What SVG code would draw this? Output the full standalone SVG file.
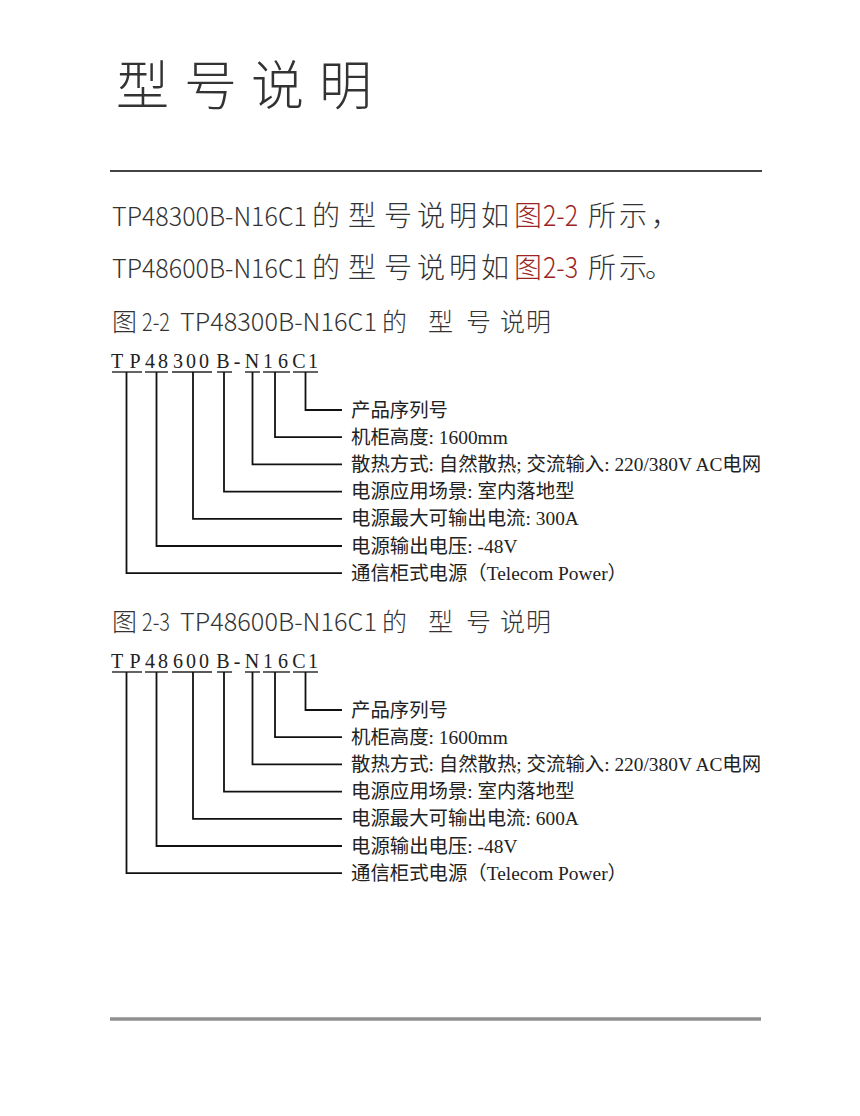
<svg xmlns="http://www.w3.org/2000/svg" width="860" height="1116" viewBox="0 0 860 1116">
<style>
.hw{font-family:"Noto Sans CJK SC","Noto Sans",sans-serif;font-weight:300;fill:#333}
.title{font-size:53px}
.para{font-size:28px}
.lat{font-size:26px}
.cap{font-size:25px}
.red{fill:#9b2423}
.code{font-family:"Liberation Serif",serif;font-size:20px;fill:#222;text-anchor:middle}
.lbl{font-family:"Liberation Serif","Noto Sans CJK SC",serif;font-size:19.4px;fill:#222}
.ln{stroke:#111;stroke-width:1.8;fill:none}
.ul{stroke:#222;stroke-width:1.4}
</style>
<rect width="860" height="1116" fill="#fff"/>
<g id="title">
<text class="hw title" y="105"><tspan x="116">型</tspan><tspan x="184">号</tspan><tspan x="251">说</tspan><tspan x="319">明</tspan></text>
<line x1="110" y1="171" x2="762" y2="171" stroke="#444" stroke-width="2"/>
</g>
<g id="paragraph">
<text class="hw para" y="226"><tspan x="112" class="lat" textLength="195" lengthAdjust="spacingAndGlyphs">TP48300B-N16C1</tspan><tspan x="312">的</tspan><tspan x="348">型</tspan><tspan x="384">号</tspan><tspan x="417">说</tspan><tspan x="449">明</tspan><tspan x="481">如</tspan><tspan x="514" class="red">图</tspan><tspan x="543" class="red" textLength="35" lengthAdjust="spacingAndGlyphs">2-2</tspan><tspan x="588">所</tspan><tspan x="619">示</tspan><tspan x="651">，</tspan></text>
<text class="hw para" y="278"><tspan x="112" class="lat" textLength="195" lengthAdjust="spacingAndGlyphs">TP48600B-N16C1</tspan><tspan x="312">的</tspan><tspan x="348">型</tspan><tspan x="384">号</tspan><tspan x="417">说</tspan><tspan x="449">明</tspan><tspan x="481">如</tspan><tspan x="514" class="red">图</tspan><tspan x="543" class="red" textLength="35" lengthAdjust="spacingAndGlyphs">2-3</tspan><tspan x="588">所</tspan><tspan x="619">示</tspan><tspan x="645">。</tspan></text>
</g>
<g id="fig22-caption">
<text class="hw cap" y="331"><tspan x="112">图</tspan><tspan x="142" textLength="28" lengthAdjust="spacingAndGlyphs">2-2</tspan><tspan x="180" textLength="197" lengthAdjust="spacingAndGlyphs">TP48300B-N16C1</tspan><tspan x="382">的</tspan><tspan x="428">型</tspan><tspan x="466">号</tspan><tspan x="500">说</tspan><tspan x="526">明</tspan></text>
</g>
<g id="fig22-code">
<text class="code" y="368"><tspan x="117">T</tspan><tspan x="135">P</tspan><tspan x="150">4</tspan><tspan x="163">8</tspan><tspan x="178">3</tspan><tspan x="191">0</tspan><tspan x="204">0</tspan><tspan x="223">B</tspan><tspan x="237">-</tspan><tspan x="252">N</tspan><tspan x="268">1</tspan><tspan x="283">6</tspan><tspan x="299">C</tspan><tspan x="313">1</tspan></text>
<g class="ul"><line x1="112" y1="372" x2="142" y2="372"/><line x1="145" y1="372" x2="168" y2="372"/><line x1="172" y1="372" x2="212" y2="372"/><line x1="217" y1="372" x2="232" y2="372"/><line x1="245" y1="372" x2="260" y2="372"/><line x1="263" y1="372" x2="290" y2="372"/><line x1="293" y1="372" x2="318" y2="372"/></g>
</g>
<g id="fig22-connectors">
<path class="ln" d="M305.5 372V410H342"/>
<path class="ln" d="M275 372V437.2H342"/>
<path class="ln" d="M252.5 372V464.4H342"/>
<path class="ln" d="M224 372V491.6H342"/>
<path class="ln" d="M193 372V518.8H342"/>
<path class="ln" d="M156.5 372V546H342"/>
<path class="ln" d="M126.5 372V573.2H342"/>
</g>
<g id="fig22-labels">
<text class="lbl" x="351" y="416.5">产品序列号</text>
<text class="lbl" x="351" y="443.7">机柜高度: 1600mm</text>
<text class="lbl" x="351" y="470.9">散热方式: 自然散热; 交流输入: 220/380V AC电网</text>
<text class="lbl" x="351" y="498.1">电源应用场景: 室内落地型</text>
<text class="lbl" x="351" y="525.3">电源最大可输出电流: 300A</text>
<text class="lbl" x="351" y="552.5">电源输出电压: -48V</text>
<text class="lbl" x="351" y="579.7">通信柜式电源（Telecom Power）</text>
</g>
<g id="fig23-caption">
<text class="hw cap" y="631"><tspan x="112">图</tspan><tspan x="142" textLength="28" lengthAdjust="spacingAndGlyphs">2-3</tspan><tspan x="180" textLength="197" lengthAdjust="spacingAndGlyphs">TP48600B-N16C1</tspan><tspan x="382">的</tspan><tspan x="428">型</tspan><tspan x="466">号</tspan><tspan x="500">说</tspan><tspan x="526">明</tspan></text>
</g>
<g id="fig23-code">
<text class="code" y="668"><tspan x="117">T</tspan><tspan x="135">P</tspan><tspan x="150">4</tspan><tspan x="163">8</tspan><tspan x="178">6</tspan><tspan x="191">0</tspan><tspan x="204">0</tspan><tspan x="223">B</tspan><tspan x="237">-</tspan><tspan x="252">N</tspan><tspan x="268">1</tspan><tspan x="283">6</tspan><tspan x="299">C</tspan><tspan x="313">1</tspan></text>
<g class="ul"><line x1="112" y1="672" x2="142" y2="672"/><line x1="145" y1="672" x2="168" y2="672"/><line x1="172" y1="672" x2="212" y2="672"/><line x1="217" y1="672" x2="232" y2="672"/><line x1="245" y1="672" x2="260" y2="672"/><line x1="263" y1="672" x2="290" y2="672"/><line x1="293" y1="672" x2="318" y2="672"/></g>
</g>
<g id="fig23-connectors">
<path class="ln" d="M305.5 672V710H342"/>
<path class="ln" d="M275 672V737.2H342"/>
<path class="ln" d="M252.5 672V764.4H342"/>
<path class="ln" d="M224 672V791.6H342"/>
<path class="ln" d="M193 672V818.8H342"/>
<path class="ln" d="M156.5 672V846H342"/>
<path class="ln" d="M126.5 672V873.2H342"/>
</g>
<g id="fig23-labels">
<text class="lbl" x="351" y="716.5">产品序列号</text>
<text class="lbl" x="351" y="743.7">机柜高度: 1600mm</text>
<text class="lbl" x="351" y="770.9">散热方式: 自然散热; 交流输入: 220/380V AC电网</text>
<text class="lbl" x="351" y="798.1">电源应用场景: 室内落地型</text>
<text class="lbl" x="351" y="825.3">电源最大可输出电流: 600A</text>
<text class="lbl" x="351" y="852.5">电源输出电压: -48V</text>
<text class="lbl" x="351" y="879.7">通信柜式电源（Telecom Power）</text>
</g>
<g id="footer">
<line x1="110" y1="1019" x2="761" y2="1019" stroke="#8f8f8f" stroke-width="3.5"/>
</g>
</svg>
